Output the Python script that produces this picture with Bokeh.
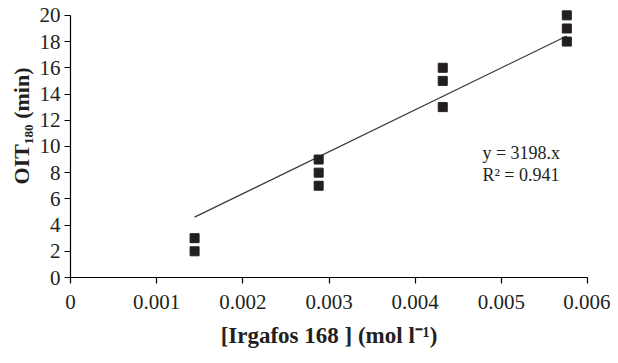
from bokeh.plotting import figure
from bokeh.models import FixedTicker, CustomJSTickFormatter, Label
from bokeh.embed import file_html
from bokeh.resources import INLINE

# ---- data ----
conc_levels = [0.00144, 0.00288, 0.00432, 0.00576]
conc = [0.00144, 0.00144,
        0.00288, 0.00288, 0.00288,
        0.00432, 0.00432, 0.00432,
        0.00576, 0.00576, 0.00576]
oit = [3, 2,
       9, 8, 7,
       16, 15, 13,
       20, 19, 18]
slope = 3198
eq_lines = ["y = 3198.x", "R² = 0.941"]
x_ticks = [0, 0.001, 0.002, 0.003, 0.004, 0.005, 0.006]
y_ticks = [0, 2, 4, 6, 8, 10, 12, 14, 16, 18, 20]
x_title = "[Irgafos 168 ] (mol l⁻¹)"
# leading em/en spaces shift the centred title a little upward, as in the reference
y_title = "\u2003\u2002OIT₁₈₀ (min)"

FONT = "Liberation Serif"
INK = "#231f20"

p = figure(width=610, height=355, output_backend="svg", toolbar_location=None,
           x_range=(0, 0.006), y_range=(0, 20.6),
           min_border_left=70, min_border_right=23,
           min_border_top=7, min_border_bottom=78)

p.xgrid.visible = False
p.ygrid.visible = False
p.outline_line_color = None
p.background_fill_color = "white"
p.border_fill_color = "white"

# fit line y = slope * x between first and last concentration
fit_x = [conc_levels[0], conc_levels[-1]]
fit_y = [slope * v for v in fit_x]
p.line(fit_x, fit_y, line_color="#3a3a3a", line_width=1.2)

p.scatter(conc, oit, marker="square", size=9, fill_color=INK, line_color=INK)

p.xaxis.ticker = FixedTicker(ticks=x_ticks)
p.xaxis.formatter = CustomJSTickFormatter(code="return tick == 0 ? '0' : tick.toFixed(3);")
p.yaxis.ticker = FixedTicker(ticks=y_ticks)
p.xaxis.bounds = (0, 0.006)
p.yaxis.bounds = (0, 20)

for ax in (p.xaxis, p.yaxis):
    ax.axis_line_color = "black"
    ax.axis_line_width = 1.2
    ax.major_tick_line_color = "black"
    ax.major_tick_line_width = 1.2
    ax.major_tick_in = 0
    ax.major_tick_out = 6
    ax.minor_tick_line_color = None
    ax.major_label_text_font = FONT
    ax.major_label_text_font_size = "21px"
    ax.major_label_text_color = INK
    ax.axis_label_text_font = FONT
    ax.axis_label_text_font_style = "bold"
    ax.axis_label_text_color = INK

p.xaxis.axis_label = x_title
p.xaxis.axis_label_text_font_size = "23px"
p.xaxis.major_label_standoff = 11
p.xaxis.axis_label_standoff = 11

p.yaxis.axis_label = y_title
p.yaxis.axis_label_text_font_size = "22px"
p.yaxis.major_label_standoff = 4
p.yaxis.axis_label_standoff = 3

eq_y = [9.5, 7.85]
for txt, yy in zip(eq_lines, eq_y):
    p.add_layout(Label(x=0.00478, y=yy, text=txt, text_baseline="middle",
                       text_font=FONT, text_font_size="18px", text_color=INK))

open("out.html", "w").write(file_html(p, INLINE))
